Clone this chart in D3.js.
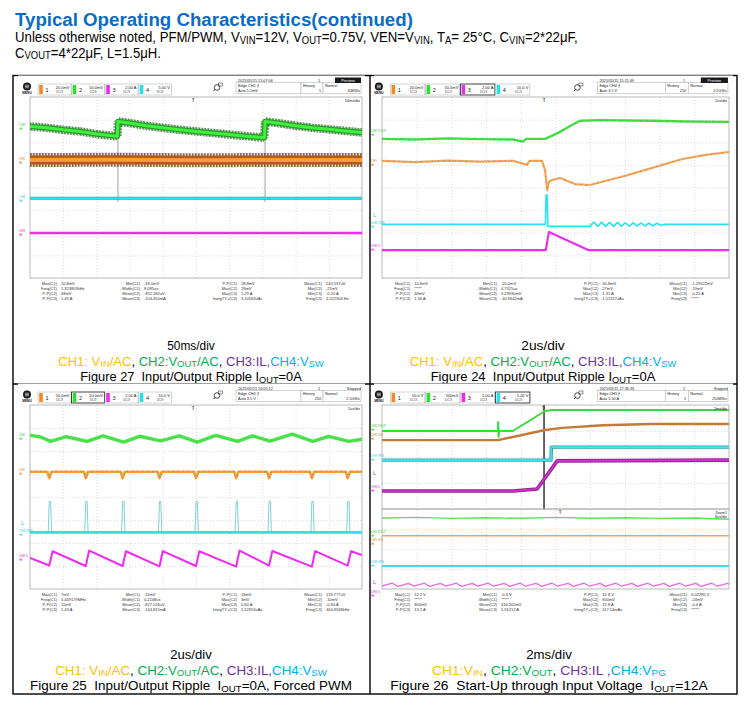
<!DOCTYPE html>
<html>
<head>
<meta charset="utf-8">
<script src="https://cdn.jsdelivr.net/npm/d3@7"></script>
<style>
  html, body { margin: 0; padding: 0; background: #fff; }
  svg { display: block; font-family: "Liberation Sans", Arial, sans-serif; }
</style>
</head>
<body>
<svg id="page" width="750" height="715"></svg>
<script>
// ---------- page text ([text, subscript, colour]) ----------
var titleText = "Typical Operating Characteristics(continued)";
var noteLine1 = [["Unless otherwise noted, PFM/PWM, V"],["VIN",1],["=12V, V"],["OUT",1],["=0.75V, VEN=V"],["VIN",1],[", T"],["A",1],["= 25°C, C"],["VIN",1],["=2*22μF,"]];
var noteLine2 = [["C"],["VOUT",1],["=4*22μF, L=1.5μH."]];

var YEL = "#ffc000", GRN = "#00b050", PUR = "#7030a0", BLU = "#00b0f0", BLK = "#000";
var rippleLegend = [["CH1: V",0,YEL],["IN",1,YEL],["/AC",0,YEL],[", ",0,BLK],["CH2:V",0,GRN],["OUT",1,GRN],["/AC",0,GRN],[", ",0,BLK],["CH3:IL,",0,PUR],["CH4:V",0,BLU],["SW",1,BLU]];
var startLegend = [["CH1:V",0,YEL],["IN",1,YEL],[", ",0,BLK],["CH2:V",0,GRN],["OUT",1,GRN],[", ",0,BLK],["CH3:IL ,",0,PUR],["CH4:V",0,BLU],["PG",1,BLU]];
var legends = [rippleLegend, rippleLegend, rippleLegend, startLegend];
var timeBase = ["50ms/div", "2us/div", "2us/div", "2ms/div"];
var figTitles = [
  [["Figure 27  Input/Output Ripple I"],["OUT",1],["=0A"]],
  [["Figure 24  Input/Output Ripple I"],["OUT",1],["=0A"]],
  [["Figure 25  Input/Output Ripple  I"],["OUT",1],["=0A, Forced PWM"]],
  [["Figure 26  Start-Up through Input Voltage  I"],["OUT",1],["=12A"]]
];

// ---------- scope header readouts ----------
var chScales = [["20.0mV","50.0mV","2.00 A","5.00 V"],["20.0mV","50.0mV","2.00 A","10.0 V"],["50.0mV","50.0mV","2.00 A","10.0 V"],["10.0 V","500mV","5.00 A","5.00 V"]];
var activeCh = [-1, 2, 1, 3];
var stamps = ["2025/05/15 15:07:06","2025/05/15 15:11:49","2025/05/15 16:05:12","2025/05/15 17:36:33"];
var trigSrc = ["Edge CH2 \u2A0D","Edge CH4 \u2A0D","Edge CH4 \u2A0D","Edge CH3 \u2A0D"];
var trigLvl = ["Auto 5.5mV","Auto 3.5 V","Auto 3.5 V","Auto 5.50 A"];
var runState = ["Preview","Preview","Stopped","Stopped"];
var histCount = ["5","250","250","5"];
var sampleRate = ["10MS/s","2.5GS/s","2.5GS/s","250MS/s"];
var trigPos = [4.91, 4.67, 4.91, 4.64];

var measLabels = [["Max(C1)","Freq(C1)","P-P(C2)","P-P(C3)"],["Min(C1)","-Width(C1)","Mean(C2)","Mean(C3)"],["P-P(C1)","Max(C2)","Max(C3)","IntegTY+(C3)"],["Mean(C1)","Min(C2)","Min(C3)","Freq(C3)"]];
var measValues = [
  [["10.8mV","1.323803kHz","48mV","1.49 A"],["-18.0mV","8.085us","-852.182uV","-104.450mA"],["28.8mV","28mV","1.29 A","3.10563uAs"],["543.537uV","-21mV","-0.20 A","4.522304 Hz"]],
  [["10.8mV","*****","46mV","1.56 A"],["-20.0mV","4.7325us","3.23930mV","-30.9642mA"],["30.8mV","27mV","1.31 A","1.52217uAs"],["-1.29522mV","-19mV","-0.25 A","*****"]],
  [["7mV","4.409179MHz","11mV","1.43 A"],["-11mV","0.2248us","-827.526uV","-144.815mA"],["18mV","3mV","0.60 A","1.52953uAs"],["133.777uV","-10mV","-0.84 A","464.8568kHz"]],
  [["12.2 V","*****","804mV","13.2 A"],["-0.6 V","*****","416.205mV","5.91212 A"],["12.8 V","800mV","12.8 A","117.14mAs"],["6.02285 V","-24mV","-0.4 A","*****"]]
];

// ---------- traces: [time in div, level in div from screen centre] ----------
// Figure 27, 50ms/div
var f27Vin  = [[0,1.21],[2.5,1.23],[5,1.2],[7.5,1.22],[10,1.21]];
var f27Vout = [[0,2.7],[0.5,2.64],[1,2.55],[1.5,2.48],[2,2.36],[2.63,2.26],[2.65,2.92],[3,2.85],[3.5,2.73],[4,2.64],[4.5,2.55],[5,2.48],[5.5,2.41],[6,2.34],[6.5,2.27],[7.06,2.2],[7.08,2.92],[7.5,2.84],[8,2.73],[8.5,2.64],[9,2.57],[9.5,2.5],[10,2.43]];
var f27Vsw  = [[0,-0.48],[10,-0.48]];
var f27IL   = [[0,-2.01],[10,-2.01]];
var f27Edges = [2.65, 7.08];

// Figure 24, 2us/div
var f24Vin  = [[0,1.18],[0.95,1.12],[1.89,1.19],[2.84,1.14],[3.78,1.18],[4.18,1.0],[4.25,1.18],[4.61,1.18],[4.7,0.78],[4.76,-0.12],[4.81,0.24],[4.9,0.33],[5.13,0.42],[5.56,0.15],[5.99,0.11],[6.43,0.29],[6.99,0.51],[7.57,0.77],[8.17,1.04],[8.66,1.26],[9.33,1.44],[10,1.57]];
var f24Vout = [[0,2.15],[0.95,2.12],[1.89,2.17],[2.84,2.14],[3.78,2.12],[4.06,2.03],[4.16,2.15],[4.7,2.15],[4.91,2.29],[5.13,2.46],[5.42,2.72],[5.71,2.95],[6.28,2.98],[7.1,2.96],[7.8,2.95],[8.8,2.92],[10,2.9]];
var f24Vsw  = [[0,-1.63],[4.71,-1.63],[4.73,-0.33],[4.76,-0.33],[4.78,-1.72],[5.99,-1.72],[6.1,-1.53],[6.22,-1.72],[6.33,-1.53],[6.44,-1.72],[6.56,-1.54],[6.67,-1.72],[6.79,-1.54],[6.9,-1.71],[7.01,-1.56],[7.13,-1.71],[7.24,-1.56],[7.35,-1.7],[7.47,-1.57],[7.58,-1.7],[7.69,-1.58],[7.81,-1.69],[7.92,-1.58],[8.03,-1.67],[8.13,-1.63],[10,-1.63]];
var f24IL   = [[0,-2.77],[4.72,-2.77],[4.81,-1.97],[5.96,-2.77],[10,-2.77]];

// Figure 25, 2us/div, forced PWM
var f25Pulse = [0.58,1.68,2.79,3.9,5.0,6.21,7.2,8.49,9.57];
var f25SwLow = -1.54, f25SwHigh = -0.19;
var f25VinBase = 1.1, f25VinDip = 0.82;
var f25Vout = [[0,2.68],[0.3,2.62],[0.62,2.42],[1.1,2.62],[1.72,2.42],[2.2,2.66],[2.82,2.39],[3.3,2.64],[3.93,2.44],[4.5,2.66],[5.04,2.39],[5.6,2.68],[6.25,2.42],[6.7,2.66],[7.23,2.43],[7.9,2.73],[8.52,2.42],[9,2.64],[9.6,2.42],[10,2.51]];
var f25IL   = [[0,-2.65],[0.58,-2.98],[0.68,-2.36],[1.68,-3.0],[1.78,-2.33],[2.79,-3.0],[2.89,-2.36],[3.9,-3.02],[4.0,-2.35],[5.0,-3.0],[5.1,-2.36],[6.21,-3.03],[6.31,-2.33],[7.2,-2.98],[7.3,-2.35],[8.49,-3.03],[8.59,-2.35],[9.57,-2.98],[9.67,-2.36],[10,-2.52]];

// Figure 26, 2ms/div main window (4 div high) and zoom window (4 div high)
var f26Vin  = [[0,0.65],[3.35,0.65],[4.7,1.04],[5.2,1.12],[6.37,1.22],[7.75,1.27],[10,1.27]];
var f26Vout = [[0,1.0],[3.34,1.0],[3.35,1.35],[3.36,0.77],[3.37,1.0],[3.77,1.0],[4.7,1.77],[4.91,1.81],[10,1.81]];
var f26Vpg  = [[0,-0.12],[4.87,-0.12],[4.88,0.38],[10,0.38]];
var f26IL   = [[0,-1.31],[3.78,-1.31],[4.47,-1.23],[5.05,-0.15],[10,-0.12]];
var f26Cursor = 4.67;
var f26ZoomTrig = 5.13;
var f26zVin  = [[0,0.66],[10,0.66]];
var f26zVout = [[0,1.55],[1,1.58],[2,1.53],[3,1.56],[4,1.54],[5,1.58],[6,1.54],[7,1.56],[8,1.53],[9,1.55],[10,1.49]];
var f26zVpg  = [[0,-0.85],[10,-0.85]];
var f26zIL   = [[0,-1.85],[0.3,-1.71],[0.46,-1.87],[0.76,-1.72],[0.92,-1.86],[1.22,-1.71],[1.38,-1.87],[1.68,-1.72],[1.84,-1.86],[2.14,-1.71],[2.3,-1.87],[2.6,-1.72],[2.76,-1.86],[3.06,-1.71],[3.22,-1.86],[3.52,-1.72],[3.68,-1.87],[3.98,-1.71],[4.14,-1.86],[4.44,-1.72],[4.6,-1.87],[4.9,-1.71],[5.06,-1.86],[5.36,-1.72],[5.52,-1.87],[5.82,-1.71],[5.98,-1.86],[6.28,-1.72],[6.44,-1.87],[6.74,-1.71],[6.9,-1.86],[7.2,-1.72],[7.36,-1.87],[7.66,-1.71],[7.82,-1.86],[8.12,-1.72],[8.28,-1.87],[8.58,-1.71],[8.74,-1.86],[9.04,-1.72],[9.2,-1.87],[9.5,-1.71],[9.66,-1.86],[9.96,-1.72],[10,-1.76]];

// channel tags at the left edge of each screen: [label, channel, level]
var tags = [
  [["CH2",1,2.7],["CH1",0,1.21],["CH4",3,-0.48],["CH3",2,-2.01]],
  [["CH2 VOUT",1,2.41],["CH1",0,1.12],["L",3,-1.23],["CH4 VSW",3,-1.63],["CH3 IL",2,-2.63]],
  [["CH2",1,2.62],["CH1",0,1.1],["L",3,-1.14],["CH4 VSW",3,-1.54],["CH3 IL",2,-2.65]],
  [["CH2 VOUT",1,1.15],["CH1 VIN",0,0.78],["CH4 VPG",3,0.0],["L",2,-0.6],["CH3 IL",2,-1.23]]
];
var zoomTags = [["CH2 VOUT",1,0.79],["CH1 VIN",0,0.37],["CH4 VPG",3,-0.7],["L",2,-1.66],["CH3 IL",2,-2.2]];

// ---------- layout ----------
var chColors = ["#f08a24", "#2ee02e", "#ee2bee", "#26e3ee"];
var cells = [
  {gx:30,  gy:97,  gw:332, gh:181, cx:191, base:350, bl:12, br:3},
  {gx:382, gy:97,  gw:347, gh:181, cx:543, base:350, bl:8,  br:4},
  {gx:30,  gy:405, gw:332, gh:184, cx:191, base:659, bl:12, br:3},
  {gx:382, gy:405, gw:347, gh:184, cx:549, base:659, bl:8,  br:4}
];
var capW = [[48,266,222],[44,267,225],[42,272,322],[46,234,318]];
var scopeFont = "'Liberation Sans Narrow', 'Liberation Sans', sans-serif";

var svg = d3.select("#page");
var defs = svg.append("defs");
svg.append("rect").attr("width", 750).attr("height", 715).attr("fill", "#fff");

function segText(parent, segs, size, weight, fill) {
  var t = parent.append("text").attr("font-size", size).attr("fill", fill || "#000").style("white-space", "pre");
  if (weight) t.attr("font-weight", weight);
  var low = false, shift = size * 0.12;
  segs.forEach(function(s) {
    var ts = t.append("tspan").text(s[0]);
    if (s[2]) ts.attr("fill", s[2]);
    if (s[1]) ts.attr("font-size", size * 0.72);
    if (s[1] && !low) { ts.attr("dy", shift); low = true; }
    else if (!s[1] && low) { ts.attr("dy", -shift); low = false; }
  });
  return t;
}

// stretch a text to the width measured on the reference
function place(t, x, y, width, anchor) {
  t.attr("text-anchor", anchor || "start");
  var w = t.node().getBBox().width;
  var k = width ? width / w : 1;
  t.attr("transform", "translate(" + x + "," + y + ") scale(" + k + ",1)");
}

function tiny(g, x, y, str, size, anchor, fill, weight) {
  return g.append("text").attr("x", x).attr("y", y).text(str)
    .attr("font-size", size).attr("font-family", scopeFont)
    .attr("text-anchor", anchor || "start").attr("fill", fill || "#222")
    .attr("font-weight", weight || null);
}

// ---------- title block ----------
place(segText(svg, [[titleText]], 19, "bold", "#0a6cc4"), 15, 26, 398);
place(segText(svg, noteLine1, 14), 15, 42, 563);
place(segText(svg, noteLine2, 14), 15, 57.5, 146);

// ---------- table frame ----------
svg.append("rect").attr("x", 13).attr("y", 75.5).attr("width", 724).attr("height", 618.5)
  .attr("fill", "none").attr("stroke", "#000").attr("stroke-width", 1.4);
svg.append("line").attr("x1", 370).attr("x2", 370).attr("y1", 75.5).attr("y2", 694).attr("stroke", "#000").attr("stroke-width", 1.4);
svg.append("line").attr("x1", 13).attr("x2", 737).attr("y1", 384).attr("y2", 384).attr("stroke", "#000").attr("stroke-width", 1.4);

function drawHeader(g, i, c) {
  var gy = c.gy, kx = c.gw / 332;
  var hx = function(off) { return c.gx + off * kx; };
  // menu key
  g.append("circle").attr("cx", hx(-3)).attr("cy", gy - 10.5).attr("r", 4).attr("fill", "#151515");
  [-1.3, 0, 1.3].forEach(function(d) {
    g.append("line").attr("x1", hx(-3) - 2.1).attr("x2", hx(-3) + 2.1).attr("y1", gy - 10.5 + d).attr("y2", gy - 10.5 + d)
      .attr("stroke", "#fff").attr("stroke-width", 0.6);
  });
  tiny(g, hx(-3), gy - 3, "MENU", 3.2, "middle", "#111", "bold");
  // channel boxes
  chScales[i].forEach(function(s, k) {
    var bx = hx(8 + k * 33.5), bw = 33 * kx;
    g.append("rect").attr("x", bx).attr("y", gy - 13).attr("width", bw).attr("height", 11).attr("fill", "#fff")
      .attr("stroke", k === activeCh[i] ? "#2d2d2d" : "#a8a8a8").attr("stroke-width", k === activeCh[i] ? 0.9 : 0.5);
    g.append("rect").attr("x", bx + 1.2).attr("y", gy - 12).attr("width", 3.6).attr("height", 9).attr("fill", chColors[k]);
    tiny(g, bx + 9, gy - 5, String(k + 1), 5.5, "middle", "#222");
    tiny(g, bx + bw - 1.5, gy - 8.3, s, 4, "end", "#222");
    tiny(g, bx + bw - 8, gy - 3.6, "DC/3", 3, "end", "#444");
  });
  // zoom key
  var zx = hx(187);
  g.append("circle").attr("cx", zx).attr("cy", gy - 9.5).attr("r", 2.8).attr("fill", "none").attr("stroke", "#222").attr("stroke-width", 0.8);
  g.append("line").attr("x1", zx - 2).attr("y1", gy - 7.5).attr("x2", zx - 3.5).attr("y2", gy - 6).attr("stroke", "#222").attr("stroke-width", 1);
  g.append("rect").attr("x", zx + 1.5).attr("y", gy - 14).attr("width", 4).attr("height", 3).attr("fill", "none").attr("stroke", "#222").attr("stroke-width", 0.5);
  // trigger / acquisition boxes
  [[206, 65], [271, 22], [293, 38]].forEach(function(b) {
    g.append("rect").attr("x", hx(b[0])).attr("y", gy - 14.5).attr("width", b[1] * kx).attr("height", 11)
      .attr("fill", "#fff").attr("stroke", "#a8a8a8").attr("stroke-width", 0.5);
  });
  tiny(g, hx(208), gy - 15.3, stamps[i], 3.8);
  tiny(g, hx(208), gy - 9.6, trigSrc[i], 3.8);
  tiny(g, hx(208), gy - 4.8, trigLvl[i], 3.8);
  tiny(g, hx(290), gy - 15.3, "1", 3.8, "end");
  tiny(g, hx(273), gy - 9.6, "History", 3.8);
  tiny(g, hx(291), gy - 4.8, histCount[i], 3.8, "end");
  tiny(g, hx(295), gy - 9.6, "Normal", 3.8);
  tiny(g, hx(330), gy - 4.8, sampleRate[i], 3.8, "end");
  if (runState[i] === "Preview") {
    g.append("rect").attr("x", hx(305)).attr("y", gy - 19.5).attr("width", 26 * kx).attr("height", 5.5).attr("fill", "#1a1a1a");
    tiny(g, hx(318), gy - 15.3, "Preview", 3.8, "middle", "#fff");
  } else {
    tiny(g, hx(331), gy - 15.3, "Stopped", 3.8, "end");
  }
}

function drawGrid(g, x, y, c, top, bot) {
  var vx = g.append("g").attr("transform", "translate(0," + bot + ")")
    .call(d3.axisBottom(x).tickValues([1,2,3,4,5,6,7,8,9]).tickSize(-(bot - top)).tickFormat(""));
  var dom = y.domain();
  var hy = g.append("g").attr("transform", "translate(" + c.gx + ",0)")
    .call(d3.axisLeft(y).tickValues(d3.range(dom[0] + 1, dom[1])).tickSize(-c.gw).tickFormat(""));
  [vx, hy].forEach(function(a) {
    a.select(".domain").remove();
    a.selectAll("line").attr("stroke", "#bdbdbd").attr("stroke-width", 0.7).attr("stroke-dasharray", "0.8,2.2");
  });
  g.append("rect").attr("x", c.gx).attr("y", top).attr("width", c.gw).attr("height", bot - top)
    .attr("fill", "none").attr("stroke", "#a9a9a9").attr("stroke-width", 0.8);
}

function drawTrace(g, x, y, data, col, w, dash, op) {
  g.append("path").datum(data)
    .attr("d", d3.line().x(function(d) { return x(d[0]); }).y(function(d) { return y(d[1]); }))
    .attr("fill", "none").attr("stroke", col).attr("stroke-width", w)
    .attr("stroke-linejoin", "round").attr("stroke-dasharray", dash || null)
    .attr("opacity", op == null ? 1 : op);
}

function drawTags(g, c, y, list) {
  list.forEach(function(t) {
    var col = d3.color(chColors[t[1]]).darker(0.3);
    if (t[0] === "L") {
      tiny(g, c.gx - 9, y(t[2]) + 2, "L", 6, "start", col);
    } else {
      tiny(g, c.gx - 11, y(t[2]) - 0.5, t[0], 3, "start", col);
      tiny(g, c.gx - 11, y(t[2]) + 3.5, "\u2295", 3.6, "start", col);
    }
  });
}

function drawMeas(g, i, c) {
  var colR = [27, 110, 207, 292], kx = c.gw / 332;
  var by = c.gy + c.gh + 7;
  measLabels.forEach(function(col, k) {
    col.forEach(function(lab, r) {
      var lx = c.gx + colR[k] * kx;
      tiny(g, lx, by + r * 5, lab, 4, "end", "#333");
      tiny(g, lx + 4, by + r * 5, measValues[i][k][r], 4, "start", "#333");
    });
  });
}

function clipFor(id, c, top, bot) {
  defs.append("clipPath").attr("id", id).append("rect")
    .attr("x", c.gx).attr("y", top).attr("width", c.gw).attr("height", bot - top);
  return "url(#" + id + ")";
}

cells.forEach(function(c, i) {
  var g = svg.append("g");
  g.append("rect").attr("x", c.gx - c.bl).attr("y", c.gy - 21.5).attr("width", c.gw + c.bl + c.br)
    .attr("height", c.gh + 50).attr("fill", "#fff");
  drawHeader(g, i, c);

  var x = d3.scaleLinear().domain([0, 10]).range([c.gx, c.gx + c.gw]);
  var mainBot = i === 3 ? c.gy + 104 : c.gy + c.gh;
  var y = d3.scaleLinear().domain(i === 3 ? [-2, 2] : [-4, 4]).range([mainBot, c.gy]);
  drawGrid(g, x, y, c, c.gy, mainBot);
  var tg = g.append("g").attr("clip-path", clipFor("clip" + i, c, c.gy, mainBot));

  if (i === 0) {
    f27Edges.forEach(function(t) {
      tg.append("line").attr("x1", x(t)).attr("x2", x(t)).attr("y1", y(2.95)).attr("y2", y(-0.64)).attr("stroke", "#8a8a8a").attr("stroke-width", 0.8);
    });
    drawTrace(tg, x, y, f27IL, chColors[2], 2.4);
    drawTrace(tg, x, y, f27Vsw, "#2f9fb0", 3);
    drawTrace(tg, x, y, f27Vsw, chColors[3], 2);
    drawTrace(tg, x, y, f27Vin, "#5a2a0a", 14, "0.7,0.8");
    drawTrace(tg, x, y, f27Vin, "#b5581a", 9);
    drawTrace(tg, x, y, f27Vin, "#ff9a3c", 4);
    drawTrace(tg, x, y, f27Vout, "#185a18", 8.5, "0.7,0.8");
    drawTrace(tg, x, y, f27Vout, "#2c9a2c", 5.5);
    drawTrace(tg, x, y, f27Vout, "#3df23d", 3);
  } else if (i === 1) {
    drawTrace(tg, x, y, f24IL, chColors[2], 2.2);
    drawTrace(tg, x, y, f24Vsw, chColors[3], 1.6);
    drawTrace(tg, x, y, f24Vin, "#f2a65a", 2.2);
    drawTrace(tg, x, y, f24Vin, "#6b3a12", 0.8, "0.6,5", 0.7);
    drawTrace(tg, x, y, f24Vout, "#45dd45", 2.4);
    drawTrace(tg, x, y, f24Vout, "#1d5e1d", 0.8, "0.6,6", 0.6);
  } else if (i === 2) {
    // switch node pulses and input dips at each recorded switching instant
    var sw = [[0, f25SwLow]], vin = [[0, f25VinBase]];
    f25Pulse.forEach(function(t) {
      sw.push([t - 0.03, f25SwLow], [t, f25SwHigh], [t + 0.04, f25SwHigh], [t + 0.07, f25SwLow]);
      vin.push([t - 0.06, f25VinBase], [t, f25VinDip], [t + 0.07, f25VinBase]);
    });
    sw.push([10, f25SwLow]); vin.push([10, f25VinBase]);
    drawTrace(tg, x, y, f25IL, chColors[2], 2);
    drawTrace(tg, x, y, sw, "#7fd0d8", 1);
    drawTrace(tg, x, y, [[0, f25SwLow], [10, f25SwLow]], chColors[3], 2.6);
    drawTrace(tg, x, y, vin, "#f0a040", 2.6);
    drawTrace(tg, x, y, vin, "#8a4a14", 0.7, "1,4", 0.7);
    drawTrace(tg, x, y, f25Vout, "#4ae24a", 3.4);
    drawTrace(tg, x, y, f25Vout, "#2b8a2b", 0.6, "0.6,5", 0.6);
  } else {
    tg.append("line").attr("x1", x(f26Cursor)).attr("x2", x(f26Cursor)).attr("y1", c.gy).attr("y2", mainBot).attr("stroke", "#555").attr("stroke-width", 1.8);
    drawTrace(tg, x, y, f26IL, "#8e1f8e", 3.6);
    drawTrace(tg, x, y, f26IL, "#d236d2", 1.6);
    drawTrace(tg, x, y, f26Vpg, "#2aa6b0", 3.4);
    drawTrace(tg, x, y, f26Vpg, "#45e3ee", 1.6);
    drawTrace(tg, x, y, f26Vin, "#c27a34", 2.4);
    drawTrace(tg, x, y, f26Vout, "#3ed83e", 2);
    tiny(g, c.gx + c.gw - 2, c.gy + 5, timeBase[i], 3.8, "end");

    // zoom window below
    var zy = d3.scaleLinear().domain([-2, 2]).range([c.gy + c.gh, mainBot]);
    drawGrid(g, x, zy, c, mainBot, c.gy + c.gh);
    var zg = g.append("g").attr("clip-path", clipFor("clipz", c, mainBot, c.gy + c.gh));
    drawTrace(zg, x, zy, f26zIL, "#e86ae8", 1.3);
    drawTrace(zg, x, zy, f26zVpg, "#3fdce8", 2.2);
    drawTrace(zg, x, zy, f26zVin, "#f3a24e", 1.6);
    drawTrace(zg, x, zy, f26zVout, "#5ee05e", 1.4);
    tiny(g, x(f26ZoomTrig), mainBot + 5, "T", 4.5, "middle", "#555", "bold");
    tiny(g, c.gx + c.gw - 2, mainBot + 4.5, "Zoom1", 3.8, "end");
    tiny(g, c.gx + c.gw - 2, mainBot + 9, "8us/div", 3.8, "end");
    drawTags(g, c, zy, zoomTags);
  }
  if (i !== 3) tiny(g, c.gx + c.gw - 2, c.gy + 5, timeBase[i], 3.8, "end");
  tiny(g, x(trigPos[i]), c.gy + 5, "T", 4.5, "middle", "#555", "bold");
  drawTags(g, c, y, tags[i]);
  drawMeas(g, i, c);

  // captions under the screenshot
  place(segText(svg, [[timeBase[i]]], 13), c.cx, c.base, capW[i][0], "middle");
  place(segText(svg, legends[i], 13), c.cx, c.base + 15.5, capW[i][1], "middle");
  place(segText(svg, figTitles[i], 13), c.cx, c.base + 31, capW[i][2], "middle");
});
</script>
</body>
</html>
